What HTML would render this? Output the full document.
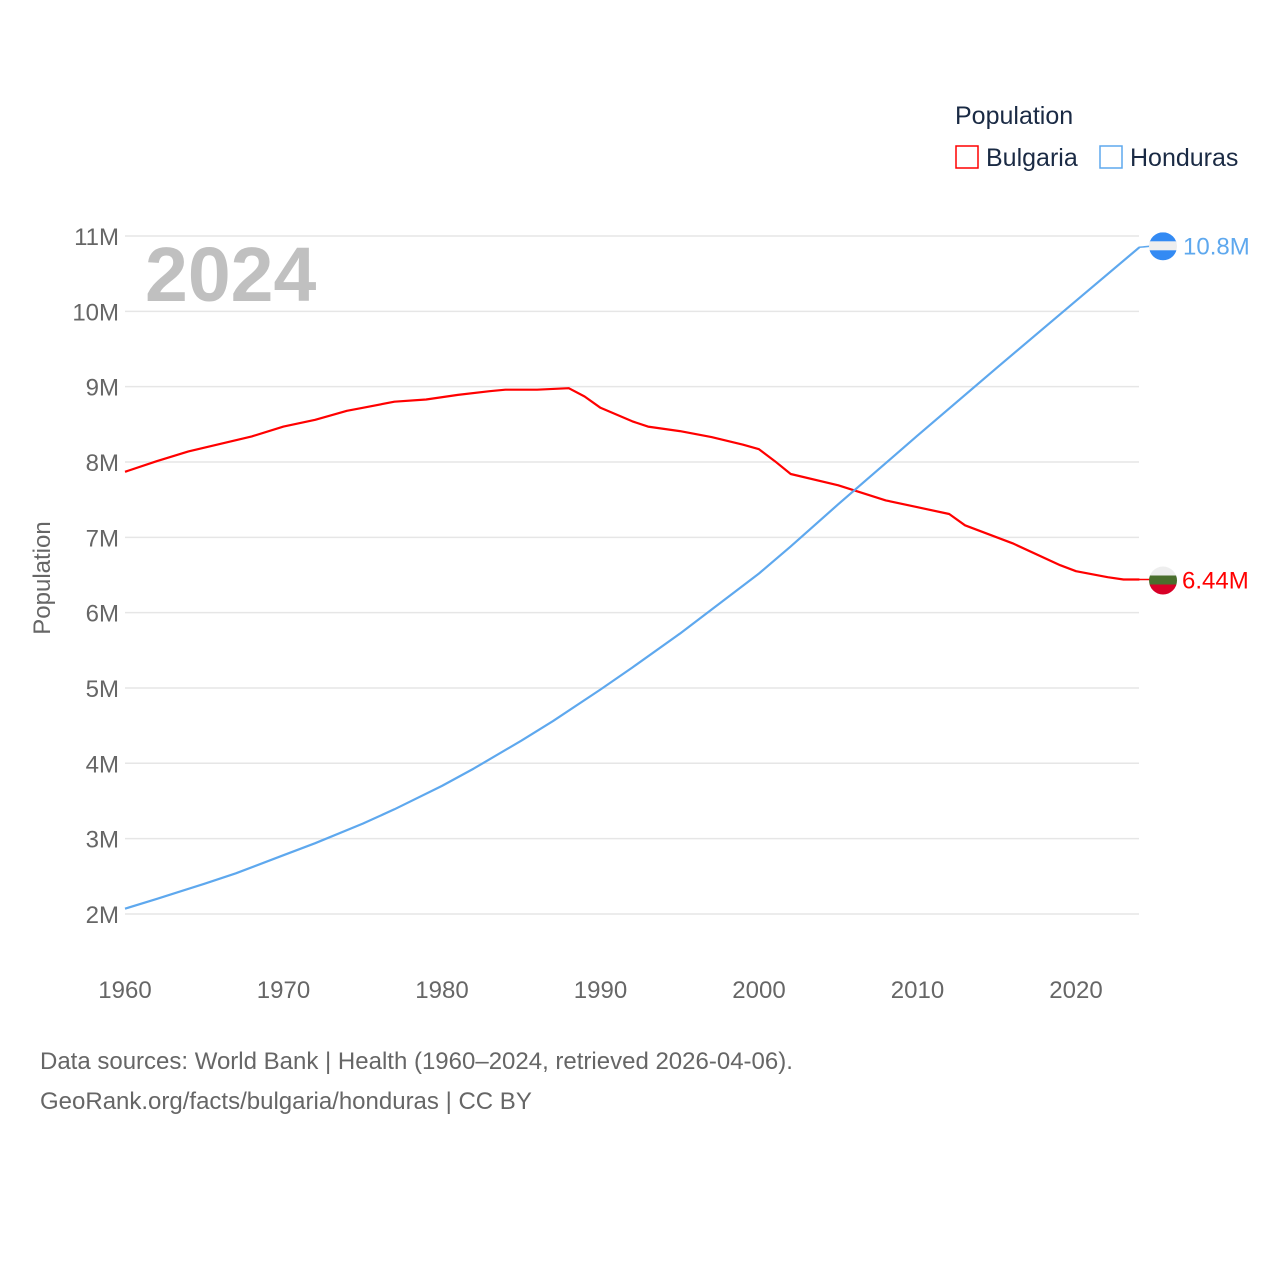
<!DOCTYPE html>
<html><head><meta charset="utf-8"><style>
body{margin:0;background:#fff;font-family:"Liberation Sans",sans-serif}
svg text{font-family:"Liberation Sans",sans-serif}
</style></head><body>
<svg id="chart" width="1280" height="1280" xmlns="http://www.w3.org/2000/svg">
<g id="grid"></g>
<g id="yticks"></g>
<g id="xticks"></g>
<text x="145" y="301" font-size="77" font-weight="bold" fill="#c0c0c0">2024</text>
<text transform="translate(50,578) rotate(-90)" text-anchor="middle" font-size="24" fill="#666">Population</text>
<g id="series"></g>
<g>
<text x="955" y="124" font-size="25" fill="#1a2a44">Population</text>
<rect x="956" y="146" width="22" height="22" fill="none" stroke="#f00" stroke-width="1.5"/>
<text x="986" y="166" font-size="25" fill="#1a2a44">Bulgaria</text>
<rect x="1100" y="146" width="22" height="22" fill="none" stroke="#5ea8ee" stroke-width="1.5"/>
<text x="1130" y="166" font-size="25" fill="#1a2a44">Honduras</text>
</g>
<text x="40" y="1069" font-size="24" fill="#666">Data sources: World Bank | Health (1960–2024, retrieved 2026-04-06).</text>
<text x="40" y="1109" font-size="24" fill="#666">GeoRank.org/facts/bulgaria/honduras | CC BY</text>
</svg>
<script>
const years=[1960,1962,1964,1966,1968,1970,1972,1973,1974,1975,1977,1979,1981,1983,1984,1986,1988,1989,1990,1992,1993,1995,1997,1999,2000,2001,2002,2005,2008,2010,2012,2013,2016,2019,2020,2022,2023,2024];
const bulgaria=[7.87,8.01,8.14,8.24,8.34,8.47,8.56,8.62,8.68,8.72,8.80,8.83,8.89,8.94,8.96,8.96,8.98,8.87,8.72,8.54,8.47,8.41,8.33,8.23,8.17,8.01,7.84,7.69,7.49,7.40,7.31,7.16,6.92,6.63,6.55,6.47,6.44,6.44];
const hYears=[1960,1962,1965,1967,1970,1972,1975,1977,1980,1982,1985,1987,1990,1992,1995,1997,2000,2002,2005,2010,2015,2020,2024];
const honduras=[2.07,2.20,2.40,2.54,2.78,2.94,3.20,3.39,3.70,3.93,4.30,4.56,4.98,5.27,5.72,6.04,6.52,6.88,7.44,8.35,9.25,10.14,10.85];
const yTicks=[2,3,4,5,6,7,8,9,10,11];
const xTicks=[1960,1970,1980,1990,2000,2010,2020];
const X=y=>125+(y-1960)*(1076-125)/60;
const Y=v=>236+(11-v)*75.33;
const NS="http://www.w3.org/2000/svg";
function mk(tag,attrs,parent,txt){const e=document.createElementNS(NS,tag);for(const k in attrs)e.setAttribute(k,attrs[k]);if(txt!==undefined)e.textContent=txt;parent.appendChild(e);return e;}
const grid=document.getElementById('grid'),yt=document.getElementById('yticks'),xt=document.getElementById('xticks'),ser=document.getElementById('series');
yTicks.forEach(v=>{
 const l=mk('line',{x1:125,x2:1139,y1:Y(v),y2:Y(v),stroke:'#e6e6e6','stroke-width':1.5},grid);
 
 
 const t=mk('text',{x:119,y:Y(v)+9,'text-anchor':'end','font-size':24,fill:'#666'},yt,v+'M');
 
 
});
xTicks.forEach(v=>{
 const t=mk('text',{x:X(v),y:998,'text-anchor':'middle','font-size':24,fill:'#666'},xt,String(v));
 
 
});
function line(xs,vs,color,name){
 const d=xs.map((y,i)=>(i?'L':'M')+X(y).toFixed(1)+','+Y(vs[i]).toFixed(1)).join('');
 const p=mk('path',{d:d,fill:'none',stroke:color,'stroke-width':2.2,'stroke-linejoin':'round'},ser);
 
 
}
line(years,bulgaria,'#f00','bulgaria-line');
line(hYears,honduras,'#5ea8ee','honduras-line');
const bv=bulgaria[bulgaria.length-1],hv=honduras[honduras.length-1];
const bc=mk('path',{d:`M1139,${Y(bv)}L1150,${Y(bv)}`,stroke:'#f00','stroke-width':1.5},ser);


const hc=mk('path',{d:`M1139,${Y(hv)}L1150,${Y(hv)-1}`,stroke:'#5ea8ee','stroke-width':1.5},ser);


const defs=mk('defs',{},ser);
const c1=mk('clipPath',{id:'cb'},defs);mk('circle',{cx:1163,cy:Y(bv)+1,r:14},c1);
const c2=mk('clipPath',{id:'ch'},defs);mk('circle',{cx:1163,cy:Y(hv)-1,r:14},c2);
const bf=mk('g',{'clip-path':'url(#cb)'},ser);


const by=Y(bv)+1;
mk('rect',{x:1149,y:by-14,width:28,height:10,fill:'#eee'},bf);
mk('rect',{x:1149,y:by-5,width:28,height:10,fill:'#496e2d'},bf);
mk('rect',{x:1149,y:by+4,width:28,height:11,fill:'#d80027'},bf);
const hf=mk('g',{'clip-path':'url(#ch)'},ser);


const hy=Y(hv)-1;
mk('rect',{x:1149,y:hy-14,width:28,height:10,fill:'#338af3'},hf);
mk('rect',{x:1149,y:hy-5,width:28,height:10,fill:'#eee'},hf);
mk('rect',{x:1149,y:hy+4,width:28,height:11,fill:'#338af3'},hf);
const bl=mk('text',{x:1182,y:Y(bv)+9,'font-size':24,fill:'#f00'},ser,bv.toFixed(2)+'M');


const hl=mk('text',{x:1183,y:Y(hv)+7,'font-size':24,fill:'#5ea8ee'},ser,hv.toFixed(1)+'M');


</script>
</body></html>
